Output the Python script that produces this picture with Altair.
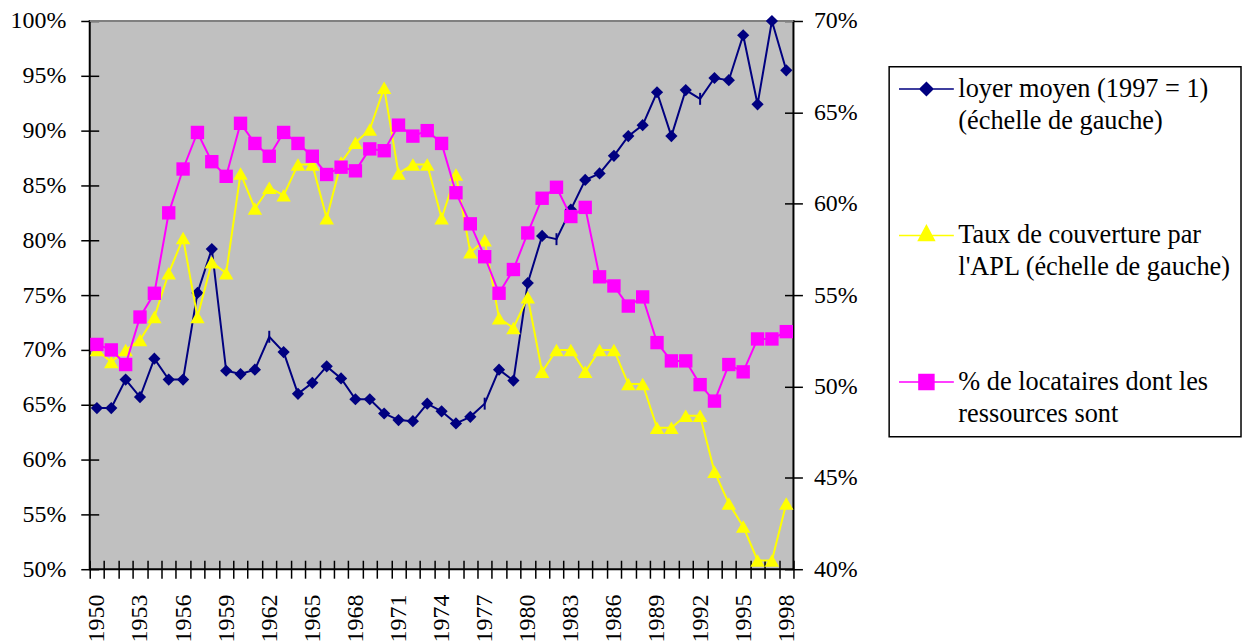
import altair as alt
import pandas as pd

# ---- données ----
annees = list(range(1950, 1999))

loyer_moyen = [64.7, 64.7, 67.3, 65.7, 69.2, 67.3, 67.3, 75.2, 79.2, 68.1,
               67.8, 68.2, 71.2, 69.8, 66.0, 67.0, 68.5, 67.4, 65.5, 65.5,
               64.2, 63.6, 63.5, 65.1, 64.4, 63.3, 63.9, 65.1, 68.2, 67.2,
               76.1, 80.4, 80.1, 82.8, 85.5, 86.1, 87.7, 89.5, 90.5, 93.5,
               89.5, 93.7, 92.9, 94.8, 94.6, 98.7, 92.4, 100.0, 95.5]

taux_apl = [70.0, 68.9, 70.0, 70.9, 73.0, 77.0, 80.2, 73.0, 78.0, 77.0,
            86.1, 82.9, 84.8, 84.1, 86.9, 86.9, 82.0, 87.1, 88.9, 90.1,
            93.9, 86.1, 86.9, 86.9, 82.0, 86.0, 78.9, 80.0, 72.9, 72.0,
            74.8, 68.0, 70.0, 70.0, 68.0, 70.0, 70.0, 66.9, 66.9, 62.9,
            62.9, 64.0, 64.0, 58.9, 56.0, 53.9, 50.8, 50.8, 56.0]

part_locataires = [52.3, 52.0, 51.2, 53.8, 55.1, 59.5, 61.9, 63.9, 62.3, 61.5,
                   64.4, 63.3, 62.6, 63.9, 63.3, 62.6, 61.6, 62.0, 61.8, 63.0,
                   62.9, 64.3, 63.7, 64.0, 63.3, 60.6, 58.9, 57.1, 55.1, 56.4,
                   58.4, 60.3, 60.9, 59.3, 59.8, 56.0, 55.5, 54.4, 54.9, 52.4,
                   51.4, 51.4, 50.1, 49.2, 51.2, 50.8, 52.6, 52.6, 53.0]

# années où la série « loyer moyen » n'a pas de marqueur losange
loyer_sans_marqueur = [1962, 1977, 1982, 1992]

noms = ["loyer moyen (1997 = 1)|(échelle de gauche)",
        "Taux de couverture par|l'APL (échelle de gauche)",
        "% de locataires dont les|ressources sont"]
couleurs = ["#000080", "#FFFF00", "#FF00FF"]

graduations_gauche = list(range(50, 101, 5))
graduations_droite = list(range(40, 71, 5))

# ---- table ----
rows = []
for serie, valeurs in zip(noms, [loyer_moyen, taux_apl, part_locataires]):
    for a, v in zip(annees, valeurs):
        rows.append({"annee": a, "valeur": v, "serie": serie,
                     "marqueur": not (serie == noms[0] and a in loyer_sans_marqueur)})
df = pd.DataFrame(rows)

W, H = 706, 550
FONT = "Liberation Serif"

x_axis = alt.Axis(
    values=[annees[0] - 0.5 + i for i in range(len(annees) + 1)],
    labelExpr="(datum.value + 0.5 - 1950) % 3 == 0 ? '' + (datum.value + 0.5) : ''",
    labelOffset=W / len(annees) / 2, labelAngle=-90, labelPadding=16,
    offset=-9, tickSize=18, domain=False, grid=False, title=None,
    labelOverlap=False, labelFlush=False, labelBound=False)


def xenc():
    return alt.X("annee:Q", scale=alt.Scale(domain=[1949.5, 1998.5], nice=False, zero=False),
                 axis=x_axis)


yl_scale = alt.Scale(domain=[50, 100], nice=False, zero=False)
yl_axis = alt.Axis(values=graduations_gauche, labelExpr="datum.value + '%'", orient="left",
                   offset=-9, tickSize=18, labelPadding=15, domain=False, grid=False, title=None)
yr_scale = alt.Scale(domain=[40, 70], nice=False, zero=False)
yr_axis = alt.Axis(values=graduations_droite, labelExpr="datum.value + '%'", orient="right",
                   offset=-9, tickSize=18, labelPadding=11, domain=False, grid=False, title=None)


def yl():
    return alt.Y("valeur:Q", scale=yl_scale, axis=yl_axis)


def yr():
    return alt.Y("valeur:Q", scale=yr_scale, axis=yr_axis)


base = alt.Chart(df)

bord_haut = alt.Chart(pd.DataFrame({"k": [0]})).mark_rule(color="#808080", strokeWidth=2).encode(
    x=alt.value(0), x2=alt.value("width"), y=alt.value(0))

ligne_loyer = base.transform_filter(alt.datum.serie == noms[0]).mark_line(
    color=couleurs[0], strokeWidth=2).encode(x=xenc(), y=yl())
pts_loyer = base.transform_filter((alt.datum.serie == noms[0]) & alt.datum.marqueur).mark_point(
    shape="diamond", size=150, filled=True, color=couleurs[0], opacity=1).encode(x=xenc(), y=yl())
traits_loyer = base.transform_filter((alt.datum.serie == noms[0]) & ~alt.datum.marqueur).mark_point(
    shape="M0,-1L0,1", size=144, filled=False, color=couleurs[0], strokeWidth=2, opacity=1).encode(
    x=xenc(), y=yl())

ligne_apl = base.transform_filter(alt.datum.serie == noms[1]).mark_line(
    color=couleurs[1], strokeWidth=2).encode(x=xenc(), y=yl())
pts_apl = base.transform_filter(alt.datum.serie == noms[1]).mark_point(
    shape="triangle-up", size=210, filled=True, color=couleurs[1], opacity=1).encode(x=xenc(), y=yl())

# symboles de légende : trait + marqueur (unité = 2 px)
chemins = [
    "M-6.15,0H21.35M7.6,-3.25L10.85,0L7.6,3.25L4.35,0Z",
    "M-6.15,0H21.35M7.6,-5L11.6,2.5L3.6,2.5Z",
    "M-6.15,0H21.35M3.85,-3.75H11.35V3.75H3.85Z",
]
leg = alt.Legend(title=None, orient="none", legendX=802, legendY=46, symbolSize=16,
                 symbolStrokeWidth=1.5, labelFont=FONT, labelFontSize=26.4, labelColor="black",
                 labelLimit=600, labelOffset=34, labelExpr="split(datum.label, '|')",
                 labelBaseline="middle", rowPadding=88, padding=9, strokeColor="black",
                 fillColor="white", symbolOpacity=1)
legende = base.transform_filter("false").mark_point(filled=True, strokeWidth=1.5).encode(
    x=xenc(), y=yl(),
    fill=alt.Fill("serie:N", scale=alt.Scale(domain=noms, range=couleurs), legend=leg),
    stroke=alt.Stroke("serie:N", scale=alt.Scale(domain=noms, range=couleurs), legend=leg),
    shape=alt.Shape("serie:N", scale=alt.Scale(domain=noms, range=chemins), legend=leg),
)

ligne_pauvres = base.transform_filter(alt.datum.serie == noms[2]).mark_line(
    color=couleurs[2], strokeWidth=2).encode(x=xenc(), y=yr())
pts_pauvres = base.transform_filter(alt.datum.serie == noms[2]).mark_point(
    shape="square", size=180, filled=True, color=couleurs[2], opacity=1).encode(x=xenc(), y=yr())

gauche = alt.layer(bord_haut, ligne_loyer, pts_loyer, traits_loyer, ligne_apl, pts_apl, legende)
droite = alt.layer(ligne_pauvres, pts_pauvres)

chart = alt.layer(gauche, droite).resolve_scale(y="independent").properties(
    width=W, height=H,
    padding={"left": 82, "top": 12, "right": 452, "bottom": 72},
    autosize=alt.AutoSizeParams(type="none"),
    background="white",
).configure(
    style={"guide-label": {"lineHeight": 31.7}}
).configure_view(
    fill="#C0C0C0", stroke="black", strokeWidth=2
).configure_axis(
    labelFont=FONT, labelFontSize=24, labelColor="black", tickColor="black", tickWidth=1.5
).configure_legend(strokeWidth=1.5)

chart.save("out.html", embed_options={"renderer": "svg", "actions": False})
